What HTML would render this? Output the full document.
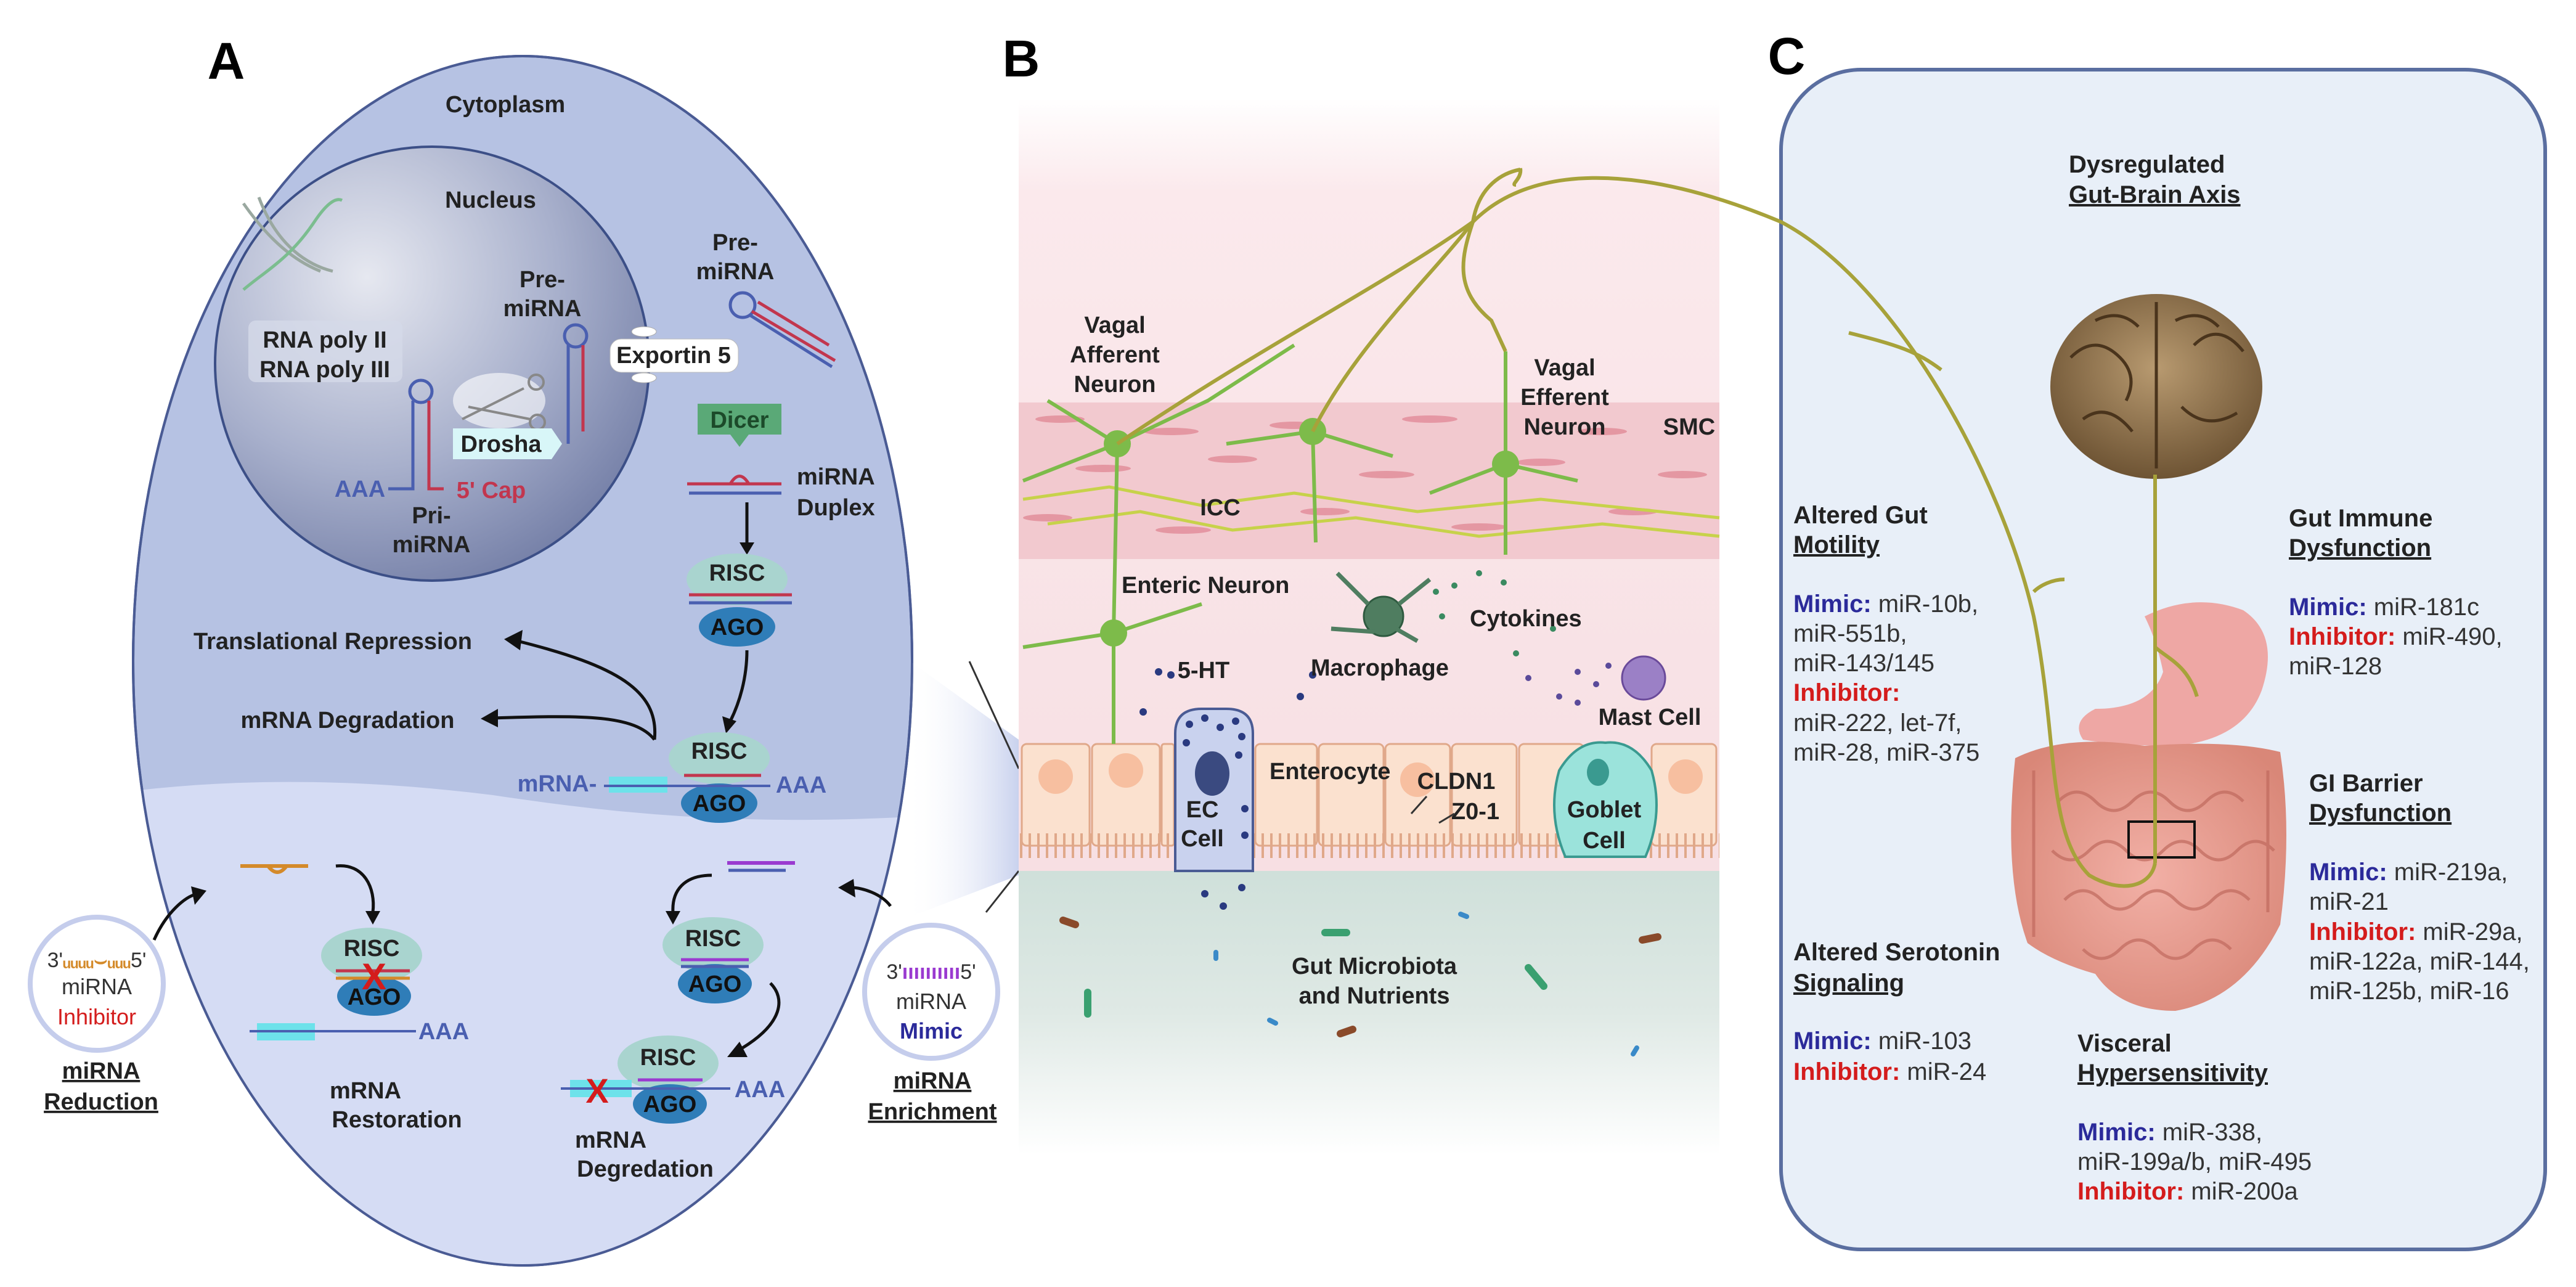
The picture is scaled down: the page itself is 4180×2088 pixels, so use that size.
<!DOCTYPE html>
<html><head><meta charset="utf-8"><style>
html,body{margin:0;padding:0;background:#fff}
svg{display:block}
text{font-family:"Liberation Sans",Arial,sans-serif}
.b{font-weight:bold;fill:#222}
.r{fill:#333}
</style></head><body>
<svg width="4180" height="2088" viewBox="0 0 4180 2088" xmlns="http://www.w3.org/2000/svg">
<defs>
<clipPath id="ell"><ellipse cx="848" cy="1072" rx="632" ry="981"/></clipPath>
<radialGradient id="nuc" cx="0.35" cy="0.3" r="0.8"><stop offset="0" stop-color="#e6e8f0"/><stop offset="0.55" stop-color="#a8b0cc"/><stop offset="1" stop-color="#6f7aa3"/></radialGradient>
<linearGradient id="bbg" x1="0" y1="0" x2="0" y2="1"><stop offset="0" stop-color="#fff"/><stop offset="0.12" stop-color="#fbe9ec"/><stop offset="1" stop-color="#f7dfe3"/></linearGradient>
<linearGradient id="lum" x1="0" y1="0" x2="0" y2="1"><stop offset="0" stop-color="#cfe0da"/><stop offset="0.5" stop-color="#dfe9e5"/><stop offset="1" stop-color="#fff"/></linearGradient>
<linearGradient id="wedge" x1="0" y1="0" x2="1" y2="0"><stop offset="0" stop-color="#fff" stop-opacity="0"/><stop offset="1" stop-color="#c9d2ee"/></linearGradient>
<radialGradient id="brain" cx="0.5" cy="0.4" r="0.6"><stop offset="0" stop-color="#b89a70"/><stop offset="1" stop-color="#6e5434"/></radialGradient>
<radialGradient id="gut" cx="0.5" cy="0.5" r="0.6"><stop offset="0" stop-color="#f2b0a6"/><stop offset="1" stop-color="#d98778"/></radialGradient>
</defs>

<!-- ============ PANEL A ============ -->
<text x="367" y="128" font-size="84" class="b" text-anchor="middle" style="fill:#000">A</text>
<ellipse cx="848" cy="1072" rx="632" ry="981" fill="#b6c2e3" stroke="#4a5b94" stroke-width="4"/>
<g clip-path="url(#ell)">
<path d="M200 1285 C400 1260 600 1265 800 1290 C1000 1320 1200 1340 1480 1325 L1480 2060 L200 2060 Z" fill="#d5dcf4"/>
</g>
<ellipse cx="848" cy="1072" rx="632" ry="981" fill="none" stroke="#4a5b94" stroke-width="4"/>
<polygon points="1480,1075 1653,1200 1653,1420 1470,1490" fill="url(#wedge)"/>
<line x1="1573" y1="1073" x2="1653" y2="1247" stroke="#333" stroke-width="3"/>
<line x1="1600" y1="1480" x2="1653" y2="1413" stroke="#333" stroke-width="3"/>

<text x="820" y="182" font-size="38" class="b" text-anchor="middle">Cytoplasm</text>
<circle cx="701" cy="590" r="352" fill="url(#nuc)" stroke="#3c4f87" stroke-width="4"/>
<text x="796" y="337" font-size="38" class="b" text-anchor="middle">Nucleus</text>
<path d="M395 330 C430 380 470 420 520 440 M420 320 C450 400 500 430 540 440" stroke="#9aa8a0" stroke-width="5" fill="none"/>
<path d="M395 470 C430 440 470 420 510 360 C530 330 545 320 555 325" stroke="#7bbd8f" stroke-width="5" fill="none"/>
<rect x="403" y="520" width="250" height="100" rx="12" fill="#d4d9e8" opacity="0.8"/>
<text x="527" y="564" font-size="38" class="b" text-anchor="middle">RNA poly II</text>
<text x="527" y="612" font-size="38" class="b" text-anchor="middle">RNA poly III</text>
<circle cx="683" cy="635" r="18" fill="none" stroke="#4a5fb0" stroke-width="5"/>
<path d="M670 650 L670 793 L630 793" stroke="#4a5fb0" stroke-width="5" fill="none"/>
<path d="M696 650 L696 793 L720 793" stroke="#c2364e" stroke-width="5" fill="none"/>
<text x="584" y="806" font-size="38" font-weight="bold" fill="#4a5fb0" text-anchor="middle">AAA</text>
<text x="797" y="808" font-size="38" font-weight="bold" fill="#c2364e" text-anchor="middle">5' Cap</text>
<text x="700" y="849" font-size="38" class="b" text-anchor="middle">Pri-</text>
<text x="700" y="896" font-size="38" class="b" text-anchor="middle">miRNA</text>
<ellipse cx="810" cy="650" rx="75" ry="45" fill="#fff" opacity="0.6"/>
<path d="M750 680 L850 630 M760 660 L860 680" stroke="#888" stroke-width="4"/>
<circle cx="870" cy="620" r="12" fill="none" stroke="#888" stroke-width="4"/><circle cx="872" cy="685" r="12" fill="none" stroke="#888" stroke-width="4"/>
<path d="M735 695 L895 695 L912 720 L895 745 L735 745 Z" fill="#d8f6f8"/>
<text x="813" y="733" font-size="38" class="b" text-anchor="middle">Drosha</text>
<circle cx="934" cy="545" r="18" fill="none" stroke="#4a5fb0" stroke-width="5"/>
<path d="M922 560 L922 720" stroke="#4a5fb0" stroke-width="5"/><path d="M946 560 L946 700" stroke="#c2364e" stroke-width="5"/>
<text x="880" y="466" font-size="38" class="b" text-anchor="middle">Pre-</text>
<text x="880" y="513" font-size="38" class="b" text-anchor="middle">miRNA</text>
<rect x="990" y="550" width="208" height="54" rx="18" fill="#fff" stroke="#bbb"/>
<ellipse cx="1045" cy="538" rx="20" ry="8" fill="#fff" stroke="#aaa"/><ellipse cx="1045" cy="613" rx="20" ry="8" fill="#fff" stroke="#aaa"/>
<text x="1093" y="589" font-size="38" class="b" text-anchor="middle">Exportin 5</text>
<text x="1193" y="406" font-size="38" class="b" text-anchor="middle">Pre-</text>
<text x="1193" y="453" font-size="38" class="b" text-anchor="middle">miRNA</text>
<circle cx="1205" cy="495" r="20" fill="none" stroke="#4a5fb0" stroke-width="5"/>
<path d="M1220 505 L1355 585 M1230 490 L1345 560" stroke="#c2364e" stroke-width="5"/>
<path d="M1218 512 L1350 595" stroke="#4a5fb0" stroke-width="5"/>
<path d="M1132 655 L1268 655 L1268 705 L1215 705 L1200 725 L1185 705 L1132 705 Z" fill="#5aa977"/>
<text x="1200" y="694" font-size="38" font-weight="bold" fill="#1c4a2a" text-anchor="middle">Dicer</text>
<path d="M1115 785 L1268 785" stroke="#c2364e" stroke-width="5"/><path d="M1118 800 L1268 800" stroke="#4a5fb0" stroke-width="5"/>
<path d="M1185 785 Q1200 760 1215 785" stroke="#c2364e" stroke-width="5" fill="none"/>
<text x="1293" y="786" font-size="38" class="b">miRNA</text>
<text x="1293" y="836" font-size="38" class="b">Duplex</text>
<path d="M1212 815 L1212 885" stroke="#111" stroke-width="5"/><polygon points="1200,880 1224,880 1212,900" fill="#111"/>
<ellipse cx="1196" cy="940" rx="82" ry="42" fill="#a9d4cf"/>
<ellipse cx="1196" cy="1017" rx="62" ry="32" fill="#2f7db8"/>
<text x="1196" y="942" font-size="38" class="b" text-anchor="middle">RISC</text>
<path d="M1118 965 L1285 965" stroke="#c2364e" stroke-width="5"/><path d="M1118 978 L1285 978" stroke="#4a5fb0" stroke-width="5"/>
<text x="1196" y="1030" font-size="38" class="b" text-anchor="middle" style="fill:#111">AGO</text>
<path d="M1212 1055 C1212 1100 1200 1140 1185 1170" stroke="#111" stroke-width="5" fill="none"/><polygon points="1172,1162 1195,1170 1178,1190" fill="#111"/>
<text x="540" y="1053" font-size="38" class="b" text-anchor="middle">Translational Repression</text>
<text x="564" y="1181" font-size="38" class="b" text-anchor="middle">mRNA Degradation</text>
<path d="M1062 1200 C1070 1120 1000 1080 840 1040" stroke="#111" stroke-width="5" fill="none"/><polygon points="818,1037 848,1022 844,1055" fill="#111"/>
<path d="M1062 1200 C1030 1160 950 1160 800 1165" stroke="#111" stroke-width="5" fill="none"/><polygon points="780,1166 808,1150 808,1180" fill="#111"/>
<ellipse cx="1167" cy="1230" rx="82" ry="42" fill="#a9d4cf"/>
<ellipse cx="1167" cy="1303" rx="62" ry="32" fill="#2f7db8"/>
<text x="1167" y="1231" font-size="38" class="b" text-anchor="middle">RISC</text>
<text x="904" y="1284" font-size="38" font-weight="bold" fill="#4a5fb0" text-anchor="middle">mRNA-</text>
<rect x="988" y="1260" width="95" height="26" fill="#6de2ea"/>
<path d="M980 1275 L1250 1275" stroke="#4a5fb0" stroke-width="4"/>
<path d="M1110 1258 L1235 1258" stroke="#c2364e" stroke-width="5"/>
<text x="1167" y="1316" font-size="38" class="b" text-anchor="middle" style="fill:#111">AGO</text>
<text x="1300" y="1286" font-size="38" font-weight="bold" fill="#4a5fb0" text-anchor="middle">AAA</text>
<path d="M390 1405 L500 1405" stroke="#d48a2a" stroke-width="6"/><path d="M435 1405 Q450 1425 465 1405" stroke="#d48a2a" stroke-width="6" fill="none"/>
<path d="M250 1525 C270 1480 300 1455 320 1450" stroke="#111" stroke-width="5" fill="none"/><polygon points="335,1445 310,1438 316,1468" fill="#111"/>
<path d="M545 1405 C590 1400 610 1440 605 1480" stroke="#111" stroke-width="5" fill="none"/><polygon points="593,1478 617,1478 605,1500" fill="#111"/>
<ellipse cx="603" cy="1550" rx="82" ry="45" fill="#a9d4cf"/>
<ellipse cx="607" cy="1616" rx="60" ry="32" fill="#2f7db8"/>
<text x="603" y="1551" font-size="38" class="b" text-anchor="middle">RISC</text>
<path d="M545 1575 L665 1575" stroke="#c2364e" stroke-width="5"/><path d="M545 1587 L665 1587" stroke="#d48a2a" stroke-width="5"/>
<text x="607" y="1630" font-size="38" class="b" text-anchor="middle" style="fill:#111">AGO</text>
<text x="607" y="1605" font-size="60" font-weight="bold" fill="#d41c1c" text-anchor="middle">X</text>
<rect x="417" y="1660" width="94" height="28" fill="#6de2ea"/>
<path d="M405 1673 L675 1673" stroke="#4a5fb0" stroke-width="4"/>
<text x="720" y="1686" font-size="38" font-weight="bold" fill="#4a5fb0" text-anchor="middle">AAA</text>
<text x="593" y="1782" font-size="38" class="b" text-anchor="middle">mRNA</text>
<text x="644" y="1829" font-size="38" class="b" text-anchor="middle">Restoration</text>
<path d="M1180 1400 L1290 1400" stroke="#9a3ad0" stroke-width="6"/><path d="M1182 1412 L1275 1412" stroke="#4a5fb0" stroke-width="5"/>
<path d="M1155 1420 C1110 1420 1090 1445 1092 1480" stroke="#111" stroke-width="5" fill="none"/><polygon points="1080,1478 1104,1478 1092,1500" fill="#111"/>
<path d="M1445 1470 C1430 1450 1400 1440 1380 1440" stroke="#111" stroke-width="5" fill="none"/><polygon points="1360,1440 1385,1426 1388,1456" fill="#111"/>
<ellipse cx="1157" cy="1533" rx="82" ry="45" fill="#a9d4cf"/>
<ellipse cx="1160" cy="1596" rx="60" ry="32" fill="#2f7db8"/>
<text x="1157" y="1535" font-size="38" class="b" text-anchor="middle">RISC</text>
<path d="M1105 1557 L1215 1557" stroke="#9a3ad0" stroke-width="5"/><path d="M1105 1568 L1215 1568" stroke="#4a5fb0" stroke-width="5"/>
<text x="1160" y="1609" font-size="38" class="b" text-anchor="middle" style="fill:#111">AGO</text>
<path d="M1250 1595 C1275 1620 1270 1660 1205 1700" stroke="#111" stroke-width="5" fill="none"/><polygon points="1180,1715 1200,1690 1213,1715" fill="#111"/>
<ellipse cx="1084" cy="1725" rx="82" ry="45" fill="#a9d4cf"/>
<ellipse cx="1087" cy="1791" rx="60" ry="32" fill="#2f7db8"/>
<text x="1084" y="1728" font-size="38" class="b" text-anchor="middle">RISC</text>
<rect x="925" y="1752" width="100" height="28" fill="#6de2ea"/>
<path d="M910 1766 L1185 1766" stroke="#4a5fb0" stroke-width="4"/>
<path d="M1035 1752 L1140 1752" stroke="#9a3ad0" stroke-width="5"/>
<text x="1087" y="1804" font-size="38" class="b" text-anchor="middle" style="fill:#111">AGO</text>
<text x="969" y="1789" font-size="56" font-weight="bold" fill="#d41c1c" text-anchor="middle">X</text>
<text x="1233" y="1780" font-size="38" font-weight="bold" fill="#4a5fb0" text-anchor="middle">AAA</text>
<text x="991" y="1862" font-size="38" class="b" text-anchor="middle">mRNA</text>
<text x="1047" y="1909" font-size="38" class="b" text-anchor="middle">Degredation</text>
<circle cx="157" cy="1596" r="108" fill="#fff" stroke="#c5cdec" stroke-width="8"/>
<text x="157" y="1569" font-size="34" fill="#333" text-anchor="middle">3'<tspan fill="#d48a2a" font-weight="bold">ᵤᵤᵤᵤ⌣ᵤᵤᵤ</tspan>5'</text>
<text x="157" y="1613" font-size="36" fill="#333" text-anchor="middle">miRNA</text>
<text x="157" y="1662" font-size="36" fill="#d41c1c" text-anchor="middle">Inhibitor</text>
<text x="164" y="1750" font-size="38" class="b" text-anchor="middle" text-decoration="underline">miRNA</text>
<text x="164" y="1800" font-size="38" class="b" text-anchor="middle" text-decoration="underline">Reduction</text>
<circle cx="1511" cy="1609" r="108" fill="#fff" stroke="#c5cdec" stroke-width="8"/>
<text x="1511" y="1588" font-size="34" fill="#333" text-anchor="middle">3'<tspan fill="#9a3ad0" font-weight="bold">ıııııııııı</tspan>5'</text>
<text x="1511" y="1637" font-size="36" fill="#333" text-anchor="middle">miRNA</text>
<text x="1511" y="1685" font-size="36" font-weight="bold" fill="#2b2a9a" text-anchor="middle">Mimic</text>
<text x="1513" y="1766" font-size="38" class="b" text-anchor="middle" text-decoration="underline">miRNA</text>
<text x="1513" y="1816" font-size="38" class="b" text-anchor="middle" text-decoration="underline">Enrichment</text>

<!-- ============ PANEL B ============ -->
<text x="1657" y="124" font-size="84" class="b" text-anchor="middle" style="fill:#000">B</text>
<rect x="1653" y="160" width="1137" height="1260" fill="url(#bbg)"/>
<rect x="1653" y="653" width="1137" height="254" fill="#f2c9cf"/>
<g fill="#e18b98" opacity="0.8">
<ellipse cx="1720" cy="680" rx="40" ry="6"/><ellipse cx="1900" cy="700" rx="45" ry="6"/><ellipse cx="2100" cy="690" rx="40" ry="6"/><ellipse cx="2320" cy="680" rx="45" ry="6"/><ellipse cx="2600" cy="700" rx="40" ry="6"/>
<ellipse cx="1790" cy="760" rx="45" ry="6"/><ellipse cx="2000" cy="745" rx="40" ry="6"/><ellipse cx="2250" cy="770" rx="45" ry="6"/><ellipse cx="2500" cy="750" rx="40" ry="6"/><ellipse cx="2730" cy="770" rx="40" ry="6"/>
<ellipse cx="1700" cy="840" rx="40" ry="6"/><ellipse cx="1920" cy="860" rx="45" ry="6"/><ellipse cx="2150" cy="830" rx="40" ry="6"/><ellipse cx="2400" cy="855" rx="45" ry="6"/><ellipse cx="2650" cy="830" rx="40" ry="6"/>
</g>
<g stroke="#c7d24a" stroke-width="5" fill="none">
<path d="M1660 810 L1800 790 L1950 820 L2100 800 L2300 830 L2500 810 L2790 840"/>
<path d="M1700 850 L1850 830 L2000 860 L2200 840 L2400 870 L2600 850 L2790 870"/>
</g>
<rect x="1653" y="1413" width="1137" height="460" fill="url(#lum)"/>
<g fill="#fbe1cf" stroke="#e0a88a" stroke-width="3">
<rect x="1658" y="1207" width="110" height="165" rx="8"/><rect x="1772" y="1207" width="110" height="165" rx="8"/>
<rect x="1885" y="1207" width="20" height="165" rx="4"/>
<rect x="2037" y="1207" width="100" height="165" rx="8"/><rect x="2140" y="1207" width="105" height="165" rx="8"/>
<rect x="2248" y="1207" width="105" height="165" rx="8"/><rect x="2356" y="1207" width="105" height="165" rx="8"/>
<rect x="2465" y="1207" width="105" height="165" rx="8"/><rect x="2680" y="1207" width="105" height="165" rx="8"/>
</g>
<g fill="#f7bfa0"><circle cx="1713" cy="1260" r="28"/><circle cx="1827" cy="1250" r="28"/><circle cx="2300" cy="1265" r="28"/><circle cx="2735" cy="1260" r="28"/></g>
<path d="M1655 1372 L2790 1372" stroke="#e0a88a" stroke-width="40" stroke-dasharray="4 10"/>
<path d="M1907 1413 L1907 1190 Q1907 1150 1950 1150 L1990 1150 Q2033 1150 2033 1190 L2033 1413 Z" fill="#c9d2ee" stroke="#4a5b94" stroke-width="4"/>
<ellipse cx="1967" cy="1255" rx="28" ry="36" fill="#3a4a80"/>
<g fill="#2a3a80"><circle cx="1930" cy="1175" r="6"/><circle cx="1955" cy="1165" r="6"/><circle cx="1980" cy="1180" r="6"/><circle cx="2005" cy="1170" r="6"/><circle cx="2015" cy="1195" r="6"/><circle cx="1925" cy="1205" r="6"/><circle cx="2010" cy="1225" r="6"/><circle cx="1880" cy="1090" r="6"/><circle cx="1900" cy="1095" r="6"/><circle cx="1855" cy="1155" r="6"/><circle cx="2110" cy="1130" r="6"/><circle cx="2130" cy="1095" r="6"/><circle cx="1955" cy="1450" r="6"/><circle cx="2015" cy="1440" r="6"/><circle cx="1985" cy="1470" r="6"/><circle cx="2020" cy="1312" r="6"/><circle cx="2020" cy="1355" r="6"/></g>
<path d="M2540 1390 Q2510 1320 2530 1250 Q2560 1200 2605 1205 Q2650 1200 2680 1250 Q2700 1320 2670 1390 Z" fill="#9be3db" stroke="#3a9a90" stroke-width="4"/>
<ellipse cx="2593" cy="1253" rx="18" ry="22" fill="#3a9a90"/>
<text x="1951" y="1326" font-size="38" class="b" text-anchor="middle">EC</text>
<text x="1951" y="1373" font-size="38" class="b" text-anchor="middle">Cell</text>
<text x="2603" y="1326" font-size="38" class="b" text-anchor="middle">Goblet</text>
<text x="2603" y="1376" font-size="38" class="b" text-anchor="middle">Cell</text>
<text x="2060" y="1264" font-size="38" class="b">Enterocyte</text>
<text x="2363" y="1280" font-size="38" class="b" text-anchor="middle">CLDN1</text>
<text x="2394" y="1329" font-size="38" class="b" text-anchor="middle">Z0-1</text>
<path d="M2315 1292 L2290 1320 M2360 1320 L2335 1335" stroke="#333" stroke-width="3"/>
<g stroke="#7dbb4a" stroke-width="6" fill="none">
<path d="M1813 720 L1807 1027 L1807 1207"/><path d="M1813 720 L1660 780 M1813 720 L1700 650 M1813 720 L1960 650 L2100 560"/>
<path d="M1807 1027 L1660 1050 M1807 1027 L1950 980"/>
<path d="M2130 700 L1990 720 M2130 700 L2260 740 M2130 700 L2135 880"/>
<path d="M2443 753 L2443 900 M2443 753 L2560 780 M2443 753 L2320 800 M2443 753 L2443 570"/>
</g>
<g fill="#7dbb4a"><circle cx="1813" cy="720" r="22"/><circle cx="1807" cy="1027" r="22"/><circle cx="2130" cy="700" r="22"/><circle cx="2443" cy="753" r="22"/></g>
<circle cx="2245" cy="1000" r="32" fill="#4f7d60" stroke="#2f5a40" stroke-width="3"/>
<path d="M2220 980 L2170 930 M2270 980 L2320 940 M2230 1025 L2160 1020 M2265 1020 L2300 1040" stroke="#4f7d60" stroke-width="7"/>
<circle cx="2667" cy="1100" r="35" fill="#9b80c6" stroke="#6a4a9a" stroke-width="3"/>
<g fill="#5a4a9a"><circle cx="2560" cy="1090" r="5"/><circle cx="2590" cy="1110" r="5"/><circle cx="2530" cy="1130" r="5"/><circle cx="2610" cy="1080" r="5"/><circle cx="2560" cy="1140" r="5"/><circle cx="2480" cy="1100" r="5"/></g>
<g fill="#3a8a60"><circle cx="2330" cy="960" r="5"/><circle cx="2360" cy="950" r="5"/><circle cx="2400" cy="930" r="5"/><circle cx="2440" cy="945" r="5"/><circle cx="2340" cy="1000" r="5"/><circle cx="2460" cy="1060" r="5"/><circle cx="2520" cy="1020" r="5"/></g>
<g stroke-linecap="round" stroke-width="12">
<path d="M1725 1493 L1745 1500" stroke="#8a4a2a"/><path d="M2665 1525 L2690 1520" stroke="#8a4a2a"/><path d="M2175 1677 L2195 1670" stroke="#8a4a2a"/>
<path d="M1765 1610 L1765 1645" stroke="#3aa070"/><path d="M2150 1513 L2185 1513" stroke="#3aa070"/><path d="M2480 1570 L2505 1600" stroke="#3aa070"/>
<path d="M1973 1545 L1973 1555" stroke="#3a8ac8" stroke-width="8"/><path d="M2060 1655 L2070 1660" stroke="#3a8ac8" stroke-width="8"/><path d="M2370 1483 L2380 1487" stroke="#3a8ac8" stroke-width="8"/><path d="M2650 1710 L2656 1700" stroke="#3a8ac8" stroke-width="8"/>
</g>
<text x="1809" y="540" font-size="38" class="b" text-anchor="middle">Vagal</text>
<text x="1809" y="588" font-size="38" class="b" text-anchor="middle">Afferent</text>
<text x="1809" y="636" font-size="38" class="b" text-anchor="middle">Neuron</text>
<text x="1980" y="836" font-size="38" class="b" text-anchor="middle">ICC</text>
<text x="1820" y="962" font-size="38" class="b">Enteric Neuron</text>
<text x="1953" y="1100" font-size="38" class="b" text-anchor="middle">5-HT</text>
<text x="2127" y="1096" font-size="38" class="b">Macrophage</text>
<text x="2385" y="1016" font-size="38" class="b">Cytokines</text>
<text x="2677" y="1176" font-size="38" class="b" text-anchor="middle">Mast Cell</text>
<text x="2539" y="609" font-size="38" class="b" text-anchor="middle">Vagal</text>
<text x="2539" y="657" font-size="38" class="b" text-anchor="middle">Efferent</text>
<text x="2539" y="705" font-size="38" class="b" text-anchor="middle">Neuron</text>
<text x="2741" y="705" font-size="38" class="b" text-anchor="middle">SMC</text>
<text x="2230" y="1580" font-size="38" class="b" text-anchor="middle">Gut Microbiota</text>
<text x="2230" y="1628" font-size="38" class="b" text-anchor="middle">and Nutrients</text>

<!-- ============ PANEL C ============ -->
<text x="2899" y="120" font-size="84" class="b" text-anchor="middle" style="fill:#000">C</text>
<rect x="2890" y="113" width="1240" height="1914" rx="130" fill="#e8eff8" stroke="#5a6ea0" stroke-width="6"/>
<ellipse cx="3499" cy="627" rx="172" ry="150" fill="url(#brain)"/>
<g stroke="#4a341c" stroke-width="5" fill="none">
<path d="M3499 490 L3499 760"/><path d="M3360 580 Q3400 540 3440 580 Q3470 610 3450 650"/><path d="M3560 560 Q3600 520 3640 570"/><path d="M3380 680 Q3420 650 3460 700"/><path d="M3540 660 Q3580 700 3630 670"/><path d="M3400 520 Q3440 500 3470 530"/><path d="M3530 520 Q3570 500 3600 530"/>
</g>
<path d="M3480 1000 Q3560 960 3640 990 Q3700 1030 3670 1120 Q3640 1200 3530 1210 Q3440 1210 3380 1200 Q3360 1170 3400 1150 Q3490 1150 3510 1090 Q3500 1040 3480 1000 Z" fill="#eea7a4"/>
<path d="M3270 1230 Q3350 1190 3480 1210 Q3620 1200 3700 1220 Q3720 1350 3700 1500 Q3640 1620 3530 1640 Q3440 1640 3400 1580 Q3330 1560 3290 1530 Q3250 1420 3270 1230 Z" fill="url(#gut)"/>
<g stroke="#c06a5e" stroke-width="5" fill="none" opacity="0.7">
<path d="M3340 1300 q30 -30 60 0 t60 0 t60 0 t60 0 t60 0"/><path d="M3330 1380 q30 30 60 0 t60 0 t60 0 t60 0 t60 0 t60 0"/><path d="M3350 1460 q30 -30 60 0 t60 0 t60 0 t60 0 t60 0"/><path d="M3380 1540 q30 30 60 0 t60 0 t60 0 t60 0"/>
<path d="M3300 1250 L3300 1520"/><path d="M3680 1250 L3680 1480"/>
</g>
<rect x="3454" y="1333" width="107" height="58" fill="none" stroke="#111" stroke-width="4"/>
<g stroke="#a7a23a" stroke-width="6" fill="none">
<path d="M2467 273 C2470 290 2450 300 2460 300"/>
<path d="M2390 360 C2480 270 2650 260 2890 360 C3080 460 3250 780 3300 1000 C3340 1200 3320 1350 3390 1420 C3440 1450 3490 1440 3497 1400"/>
<path d="M2390 360 C2400 300 2440 280 2467 275"/>
<path d="M2390 360 C2330 440 2200 560 2130 700"/>
<path d="M2390 360 C2370 420 2360 470 2420 520 L2443 570"/>
<path d="M2390 360 C2250 460 2050 560 1813 720"/>
<path d="M3497 770 L3497 1400"/>
<path d="M3000 540 C3080 560 3110 570 3150 600"/>
<path d="M3300 960 C3310 950 3330 940 3350 940"/>
<path d="M3497 1050 C3520 1070 3550 1080 3565 1130"/>
</g>
<g font-size="40">
<text x="3357" y="280" class="b">Dysregulated</text>
<text x="3357" y="329" class="b" text-decoration="underline">Gut-Brain Axis</text>
<text x="2910" y="849" class="b">Altered Gut</text>
<text x="2910" y="897" class="b" text-decoration="underline">Motility</text>
<text x="2910" y="993" class="r"><tspan font-weight="bold" fill="#2b2a9a">Mimic:</tspan> miR-10b,</text>
<text x="2910" y="1041" class="r">miR-551b,</text>
<text x="2910" y="1089" class="r">miR-143/145</text>
<text x="2910" y="1137" font-weight="bold" fill="#d41c1c">Inhibitor:</text>
<text x="2910" y="1186" class="r">miR-222, let-7f,</text>
<text x="2910" y="1234" class="r">miR-28, miR-375</text>
<text x="3714" y="854" class="b">Gut Immune</text>
<text x="3714" y="902" class="b" text-decoration="underline">Dysfunction</text>
<text x="3714" y="998" class="r"><tspan font-weight="bold" fill="#2b2a9a">Mimic:</tspan> miR-181c</text>
<text x="3714" y="1046" class="r"><tspan font-weight="bold" fill="#d41c1c">Inhibitor:</tspan> miR-490,</text>
<text x="3714" y="1094" class="r">miR-128</text>
<text x="3747" y="1284" class="b">GI Barrier</text>
<text x="3747" y="1332" class="b" text-decoration="underline">Dysfunction</text>
<text x="3747" y="1428" class="r"><tspan font-weight="bold" fill="#2b2a9a">Mimic:</tspan> miR-219a,</text>
<text x="3747" y="1476" class="r">miR-21</text>
<text x="3747" y="1525" class="r"><tspan font-weight="bold" fill="#d41c1c">Inhibitor:</tspan> miR-29a,</text>
<text x="3747" y="1573" class="r">miR-122a, miR-144,</text>
<text x="3747" y="1621" class="r">miR-125b, miR-16</text>
<text x="2910" y="1558" class="b">Altered Serotonin</text>
<text x="2910" y="1608" class="b" text-decoration="underline">Signaling</text>
<text x="2910" y="1702" class="r"><tspan font-weight="bold" fill="#2b2a9a">Mimic:</tspan> miR-103</text>
<text x="2910" y="1752" class="r"><tspan font-weight="bold" fill="#d41c1c">Inhibitor:</tspan> miR-24</text>
<text x="3371" y="1706" class="b">Visceral</text>
<text x="3371" y="1754" class="b" text-decoration="underline">Hypersensitivity</text>
<text x="3371" y="1850" class="r"><tspan font-weight="bold" fill="#2b2a9a">Mimic:</tspan> miR-338,</text>
<text x="3371" y="1898" class="r">miR-199a/b, miR-495</text>
<text x="3371" y="1946" class="r"><tspan font-weight="bold" fill="#d41c1c">Inhibitor:</tspan> miR-200a</text>
</g>
</svg>
</body></html>
